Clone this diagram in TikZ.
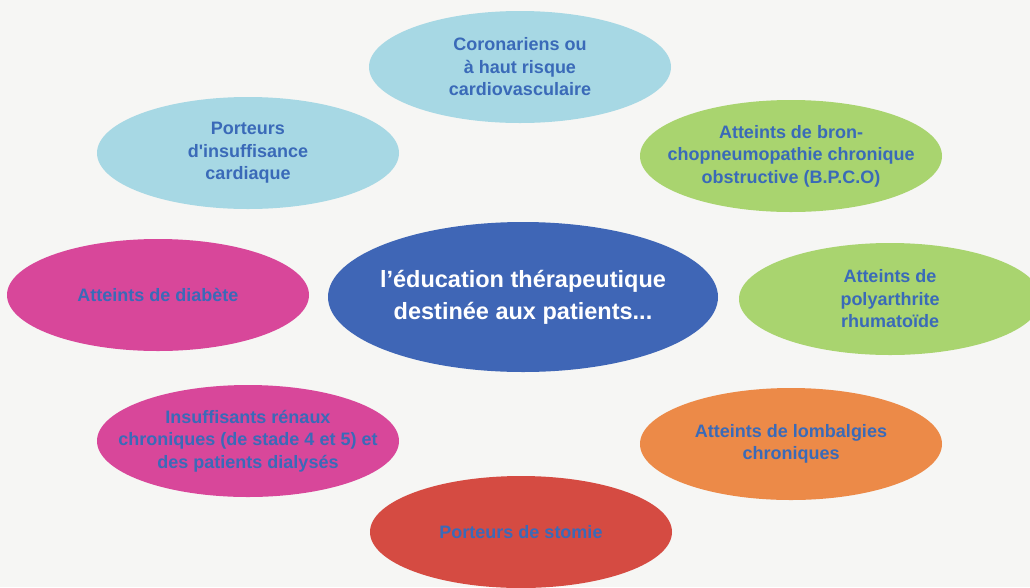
\documentclass[tikz,border=0pt]{standalone}
\usepackage{fontspec}
\setmainfont{Liberation Sans}
\usetikzlibrary{shapes.geometric}
\definecolor{bgc}{HTML}{F6F6F4}
\definecolor{cyanfill}{HTML}{A7D8E4}
\definecolor{greenfill}{HTML}{A9D46F}
\definecolor{pinkfill}{HTML}{D8479A}
\definecolor{orangefill}{HTML}{EC8A48}
\definecolor{redfill}{HTML}{D54B42}
\definecolor{centerfill}{HTML}{3F66B6}
\definecolor{txtblue}{HTML}{3A6AB8}
\begin{document}
\begin{tikzpicture}[x=1pt,y=-1pt,
  blob/.style={ellipse, minimum width=302pt, minimum height=112pt, inner xsep=-60pt, inner ysep=-20pt,
    align=center, text=txtblue, font=\bfseries\fontsize{18}{22.5}\selectfont},
  hub/.style={ellipse, minimum width=390pt, minimum height=150pt, inner xsep=-60pt, inner ysep=-20pt,
    align=center, fill=centerfill, text=white, font=\bfseries\fontsize{23.5}{32}\selectfont}]
\useasboundingbox (0,0) rectangle (1030,587);
\fill[bgc] (0,0) rectangle (1030,587);
\node[blob, fill=cyanfill] (coro) at (520,67) {Coronariens ou\\à haut risque\\cardiovasculaire};
\node[blob, fill=cyanfill] (card) at (248,153) {Porteurs\\d\textquotesingle insuffisance\\cardiaque};
\node[blob, fill=greenfill] (bpco) at (791,156) {Atteints de bron-\\chopneumopathie chronique\\obstructive (B.P.C.O)};
\node[hub] (hub) at (523,297) {l’éducation thérapeutique\\destinée aux patients...};
\node[blob, fill=pinkfill] (diab) at (158,295) {Atteints de diabète};
\node[blob, fill=greenfill] (poly) at (890,299) {Atteints de\\polyarthrite\\rhumatoïde};
\node[blob, fill=pinkfill] (renal) at (248,441) {Insuffisants rénaux\\chroniques (de stade 4 et 5) et\\des patients dialysés};
\node[blob, fill=orangefill] (lomb) at (791,444) {Atteints de lombalgies\\chroniques};
\node[blob, fill=redfill] (stom) at (521,532) {Porteurs de stomie};
\end{tikzpicture}
\end{document}
